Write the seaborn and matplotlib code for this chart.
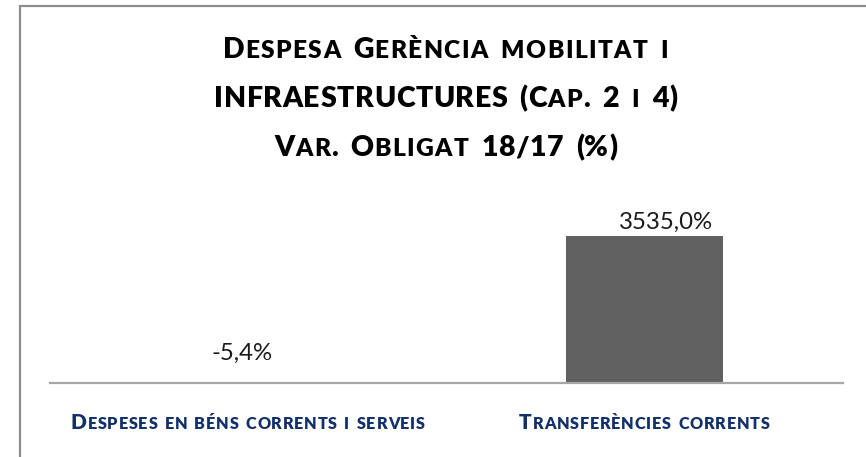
import matplotlib
matplotlib.use("Agg")
import matplotlib.pyplot as plt
from matplotlib.patches import Rectangle
import pandas as pd
import seaborn as sns

# Chart data
categories = ["Despeses en béns corrents i serveis", "Transferències corrents"]
variation = [-5.4, 3535.0]
title_lines = ["Despesa Gerència mobilitat i",
               "INFRAESTRUCTURES (Cap. 2 i 4)",
               "Var. Obligat 18/17 (%)"]

W, H = 866, 457
FONT = "Lato"
NAVY = "#12306A"
BAR = "#606060"

sns.set_theme(style="white")
plt.rcParams["font.family"] = [FONT, "DejaVu Sans"]

fig = plt.figure(figsize=(W / 100, H / 100), dpi=100)
fig.patch.set_facecolor("white")

# Plot area: zero line at y=383 px, spanning x 50..843 px
ax = fig.add_axes([50 / W, (H - 383) / H, (843 - 50) / W, (383 - 200) / H])
df = pd.DataFrame({"cat": categories, "val": variation})
sns.barplot(data=df, x="cat", y="val", color=BAR, saturation=1, width=0.396,
            ax=ax, errorbar=None)
for p in ax.patches:
    p.set_clip_on(False)
    p.set_edgecolor("none")
ax.set_xlim(-0.5, 1.5)
ax.set_ylim(0, 3535 * 183 / 147)
for side in ("top", "left", "right"):
    ax.spines[side].set_visible(False)
ax.spines["bottom"].set_color("#A6A6A6")
ax.spines["bottom"].set_linewidth(1.6)
ax.set_xticks([])
ax.set_yticks([])
ax.set_xlabel("")
ax.set_ylabel("")
ax.patch.set_alpha(0)

# Value labels
offsets = [(-6, 30), (21, 14)]
for i, v in enumerate(variation):
    label = f"{v:.1f}%".replace(".", ",")
    ax.annotate(label, xy=(i, max(v, 0)), xytext=offsets[i],
                textcoords="offset pixels", ha="center", va="center",
                fontsize=17.3, color="#1A1A1A", family=FONT,
                annotation_clip=False)

# Outer frame (left and top edges visible)
fig.patches.append(Rectangle((20 / W, -1), 2, 2 - 6 / H, transform=fig.transFigure,
                             fill=False, edgecolor="#8C8C8C", lw=1.6, zorder=0))

renderer = fig.canvas.get_renderer()
_adv_cache = {}


def advance(ch, size, weight):
    key = (ch, size, weight)
    if key not in _adv_cache:
        t1 = fig.text(0, 0, ch + "|", fontsize=size, fontweight=weight, family=FONT)
        t2 = fig.text(0, 0, "|", fontsize=size, fontweight=weight, family=FONT)
        _adv_cache[key] = (t1.get_window_extent(renderer).width
                           - t2.get_window_extent(renderer).width)
        t1.remove()
        t2.remove()
    return _adv_cache[key]


def small_caps(text, cx, baseline, size, color, ratio=0.78, weight="bold",
               track_full=0.0, track_small=0.0, space_extra=0.0):
    """Draw text in small caps (lowercase letters as reduced capitals)."""
    glyphs, steps = [], []
    for ch in text:
        small = ch.islower()
        sz = size * ratio if small else size
        g = ch.upper()
        step = advance(g, sz, weight)
        if ch == " ":
            step += space_extra
        else:
            step += track_small if small else track_full
        glyphs.append((g, sz))
        steps.append(step)
    total = sum(steps)
    x = cx - total / 2
    for (g, sz), step in zip(glyphs, steps):
        if g != " ":
            fig.text(x / W, 1 - baseline / H, g, fontsize=sz, fontweight=weight,
                     family=FONT, color=color, ha="left", va="baseline")
        x += step


# Title
for line, base in zip(title_lines, [58, 107, 156]):
    small_caps(line, 446, base, 20.5, "black", ratio=0.86, weight="heavy",
               track_full=0.6, track_small=1.4, space_extra=5.0)

# Category labels
for i, cat in enumerate(categories):
    cx = ax.transData.transform((i, 0))[0]
    small_caps(cat, cx, 429, 15.0, NAVY, ratio=0.78, weight="heavy",
               track_full=0.8, track_small=0.8, space_extra=1.5)

fig.savefig("out.png", dpi=100)
